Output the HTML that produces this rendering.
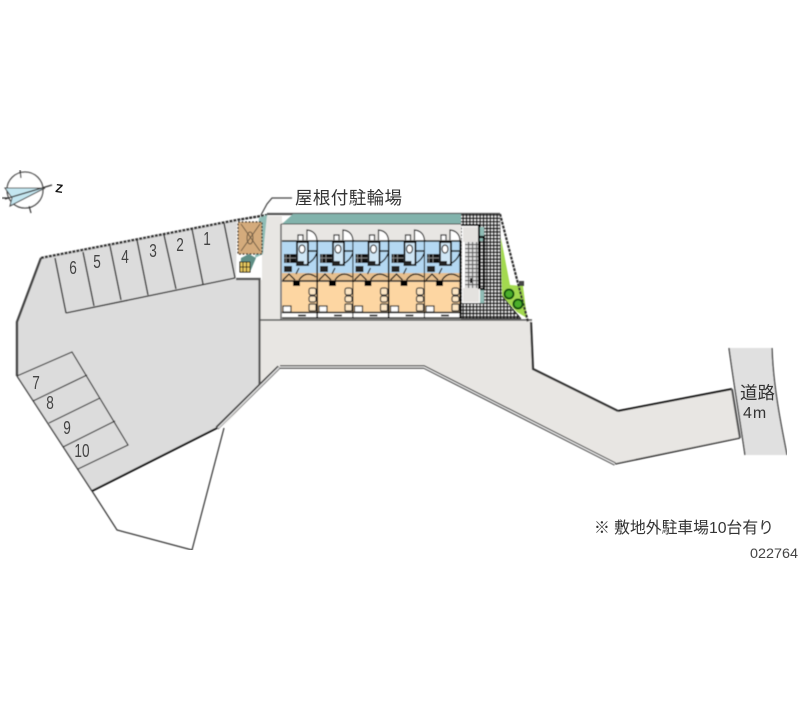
<!DOCTYPE html>
<html lang="ja"><head><meta charset="utf-8"><style>
html,body{margin:0;padding:0;background:#fff}
svg{display:block}
text{font-family:"Liberation Sans","Noto Sans CJK JP",sans-serif;fill:#333}
.n{font-size:17px;text-anchor:middle;fill:#444}
</style></head><body>
<svg width="800" height="727" viewBox="0 0 800 727" xmlns="http://www.w3.org/2000/svg">
<defs>
<filter id="b" x="0" y="0" width="1" height="1"><feGaussianBlur stdDeviation="0.4"/></filter>
<pattern id="m" width="3.400" height="3.400" patternUnits="userSpaceOnUse"><rect width="3.400" height="3.400" fill="#eee"/><path d="M0 .7H3.400M.7 0V3.400" stroke="#111" stroke-width="1.400"/></pattern>
<pattern id="m2" width="4" height="4" patternUnits="userSpaceOnUse"><rect width="4" height="4" fill="#ddd"/><path d="M0 .5H4M.5 0V4" stroke="#555" stroke-width="1.200"/></pattern>
<g id="u">
<rect x="0" y="241" width="36" height="39" fill="#b4d8f2"/>
<rect x="0" y="273" width="36" height="8" fill="#e6bf8e"/>
<rect x="0" y="282" width="36" height="30" fill="#fdd6a2"/>
<rect x="0" y="313" width="36" height="5" fill="#fff"/>
<path d="M0 241H36M0 281H36M0 312.500H36M0 318H36" stroke="#111" stroke-width="1.500" fill="none"/>
<path d="M35.500 240V318" stroke="#000" stroke-width="2.200"/>
<path d="M25 240V230Q34 231 35 240" fill="#fff" stroke="#222" stroke-width="1.200"/>
<path d="M16 240V235H21V240" fill="#fff" stroke="#222" stroke-width="1.200"/>
<rect x="15" y="242" width="11" height="23" fill="#cfe6f5" stroke="#111" stroke-width="1.800"/>
<ellipse cx="20" cy="249" rx="3" ry="4" fill="#fff" stroke="#222" stroke-width="1.200"/>
<path d="M26 251H35" stroke="#111" stroke-width="1.500"/>
<rect x="2" y="254" width="12" height="9" fill="#111"/>
<path d="M4 254V263M8 254V263M2 258H14" stroke="#999" stroke-width=".7"/>
<rect x="2" y="266" width="8" height="6" fill="#222"/>
<rect x="14" y="261" width="8" height="5" fill="#222"/>
<path d="M1 280L7 274L13 280M17 280Q24 270 34 277M25 264Q33 260 35 252M14 274L17 268" fill="none" stroke="#111" stroke-width="1.300"/>
<rect x="11" y="281" width="7" height="5" fill="#000"/>
<rect x="27" y="288" width="7" height="7" rx="2" fill="#fde6c4" stroke="#333" stroke-width="1.200"/>
<rect x="27" y="296" width="7" height="6" rx="2" fill="#fde6c4" stroke="#333" stroke-width="1.200"/>
<rect x="27" y="304" width="7" height="7" rx="1" fill="#fde6c4" stroke="#333" stroke-width="1.200"/>
<rect x="1" y="306" width="8" height="6" fill="#fff" stroke="#222" stroke-width="1.200"/>
<path d="M16 315.500H24" stroke="#333" stroke-width="2"/>
</g>
</defs>
<g filter="url(#b)">
<!-- side road -->
<path d="M729 348H772C773 385 781 425 787 455H745C740 420 734 385 729 348Z" fill="#e0e0e0"/>
<path d="M729 348C734 385 740 420 745 455M772 348C773 385 781 425 787 455" fill="none" stroke="#222" stroke-width="1.200"/>
<!-- beige site -->
<path d="M262 216H282V320H532L533 369L618 411L732 389L740 438L615 464L424 367H280L222 428L259 385V280H262Z" fill="#e8e6e3"/>
<rect x="281" y="222" width="190" height="98" fill="#e8e6e3"/>
<!-- parking -->
<path d="M41 258L237 220L236 278H259V385L217 428L92 491L17 376V322Z" fill="#dcdcdc"/>
<path d="M17 376V322L41 258" fill="none" stroke="#444" stroke-width="2.400"/>
<path d="M41 258L237 220L267 215" fill="none" stroke="#333" stroke-width="2.400" stroke-dasharray="3 1"/>
<path d="M236 279H259.500V385" fill="none" stroke="#555" stroke-width="2.200"/>
<path d="M92 491L217 428" fill="none" stroke="#111" stroke-width="2"/>
<path d="M66 313L235 278M55 258L66 313M83 252L94 306M110 246L121 300M137 240L148 295M164 235L176 289M192 229L203 284M224 223L235 278" fill="none" stroke="#222" stroke-width="1.400"/>
<path d="M17 376L92 491M17 376L72 352L128 445L78 469M33 401L87 375M49 423L100 398M63 447L115 421" fill="none" stroke="#222" stroke-width="1.200"/>
<!-- outline white lot -->
<path d="M92 491L117 530L192 550L224 428" fill="none" stroke="#333" stroke-width="1.200"/>
<!-- walls -->
<path d="M217 428L279 367" fill="none" stroke="#333" stroke-width="4"/>
<path d="M218 428L279 367.500" fill="none" stroke="#ddd" stroke-width="1.800"/>
<path d="M280 367H424L615 464" fill="none" stroke="#333" stroke-width="3.500"/>
<path d="M280 367H424L615 464" fill="none" stroke="#eee" stroke-width="1.300"/>
<path d="M615 464L740 438" fill="none" stroke="#111" stroke-width="1.400"/>
<path d="M618 411L732 389" fill="none" stroke="#111" stroke-width="2"/>
<path d="M732 389L740 438" fill="none" stroke="#555" stroke-width="2.200"/>
<path d="M531 322L533 369L618 411" fill="none" stroke="#333" stroke-width="2.200"/>
<path d="M260 320H532" stroke="#555" stroke-width="1.400"/>
<path d="M260 320V385" stroke="#555"/>
<!-- bike parking -->
<path d="M259 218L267 215L263 254L255 258Z" fill="#8fbdb6"/>
<rect x="238" y="222" width="24" height="32" fill="#d4ab7c" stroke="#222" stroke-dasharray="2 1.500" stroke-width="1.300"/>
<path d="M241 224L260 251M260 224L241 251" stroke="#6d5a43" stroke-width="1"/>
<ellipse cx="250" cy="238" rx="3" ry="6" fill="none" stroke="#6d5a43"/>
<path d="M241 258L249 254L256 258L250 272H240Z" fill="#5f8f86"/>
<rect x="240" y="262" width="10" height="10" fill="#e8c95e" stroke="#111"/>
<path d="M243 262V272M246.500 262V272M240 267H250" stroke="#111"/>
<path d="M261 215L267 204L272 198H292" fill="none" stroke="#444" stroke-width="1.200"/>
<!-- top wall & teal -->
<path d="M267 214H500" stroke="#555" stroke-width="2.200"/>
<path d="M282 224L293 214H461V224Z" fill="#82b3ac"/>
<path d="M281 224H461" stroke="#444"/>
<path d="M281 224V320" stroke="#666" stroke-width="1.500"/>
<!-- mesh -->
<path d="M461 214H500L502 296L521 319H461Z" fill="url(#m)"/>
<rect x="462" y="225" width="18" height="78" fill="#fff"/>
<rect x="465" y="242" width="14" height="46" fill="url(#m2)"/>
<rect x="463" y="227" width="16" height="15" fill="#e4e2df"/>
<rect x="463" y="288" width="16" height="14" fill="#e4e2df"/>
<rect x="480" y="227" width="4" height="14" fill="#8fbdb6"/>
<rect x="480" y="290" width="4" height="13" fill="#8fbdb6"/>
<path d="M461 225H479V240M479 238V289" fill="none" stroke="#000" stroke-width="2"/>
<path d="M480 237H484V289H480" fill="none" stroke="#000" stroke-width="2.200"/>
<rect x="470" y="278" width="2" height="5" fill="#111"/>
<!-- green -->
<path d="M501 238L510 285L523 286L527 318L517 312L502 296Z" fill="#a3d94f"/>
<path d="M500 214L528 322" stroke="#333" stroke-width="2.200" stroke-dasharray="3 1"/>
<path d="M502 296L521 319" stroke="#333"/>
<circle cx="509" cy="294" r="4.500" fill="#4caf2a" stroke="#0f4f0e" stroke-width="2"/>
<circle cx="518" cy="304" r="4.500" fill="#4caf2a" stroke="#0f4f0e" stroke-width="2"/>
<rect x="519" y="281" width="5" height="5" fill="#444"/>
<!-- units -->
<use href="#u" x="282"/><use href="#u" x="318"/><use href="#u" x="353.500"/><use href="#u" x="389.500"/><use href="#u" x="425"/>
<path d="M461 318.500H520" stroke="#222" stroke-width="1.300"/>
<!-- compass -->
<circle cx="25" cy="190" r="18" fill="#fff" stroke="#444" stroke-width="1.300"/>
<path d="M20 170L21 178M29 206L31 213M2 198L8 198" stroke="#333" stroke-width="1.200"/>
<path d="M5 188H45L10 206L12 198Z" fill="#c4e6f0" stroke="#444" stroke-width="1"/>
<path d="M5 199L52 185" stroke="#333" stroke-width="1.200"/>
</g>
<text transform="translate(55,192) rotate(8)" style="font-size:12px;font-weight:bold;fill:#111">Z</text>
<g>
<text class="n" transform="translate(207,245) scale(.8,1.100)">1</text><text class="n" transform="translate(180,251) scale(.8,1.100)">2</text><text class="n" transform="translate(153,257) scale(.8,1.100)">3</text><text class="n" transform="translate(125,263) scale(.8,1.100)">4</text><text class="n" transform="translate(97,268) scale(.8,1.100)">5</text><text class="n" transform="translate(73,274) scale(.8,1.100)">6</text>
<text class="n" transform="translate(36,389) scale(.8,1.100)">7</text><text class="n" transform="translate(50,409) scale(.8,1.100)">8</text><text class="n" transform="translate(67,434) scale(.8,1.100)">9</text><text class="n" transform="translate(82,457) scale(.8,1.100)">10</text>
<text x="295" y="204" style="font-size:17.500px;letter-spacing:.4px;fill:#333">屋根付駐輪場</text>
<text x="740" y="399" style="font-size:17.500px;fill:#333">道路</text>
<text x="743" y="418" style="font-size:16px;letter-spacing:1px;fill:#333">4m</text>
<text x="594" y="533" style="font-size:15.800px;fill:#333">※ 敷地外駐車場10台有り</text>
<text x="750" y="558" style="font-size:14px;fill:#444" textLength="48" lengthAdjust="spacingAndGlyphs">022764</text>
</g>
</svg>
</body></html>
